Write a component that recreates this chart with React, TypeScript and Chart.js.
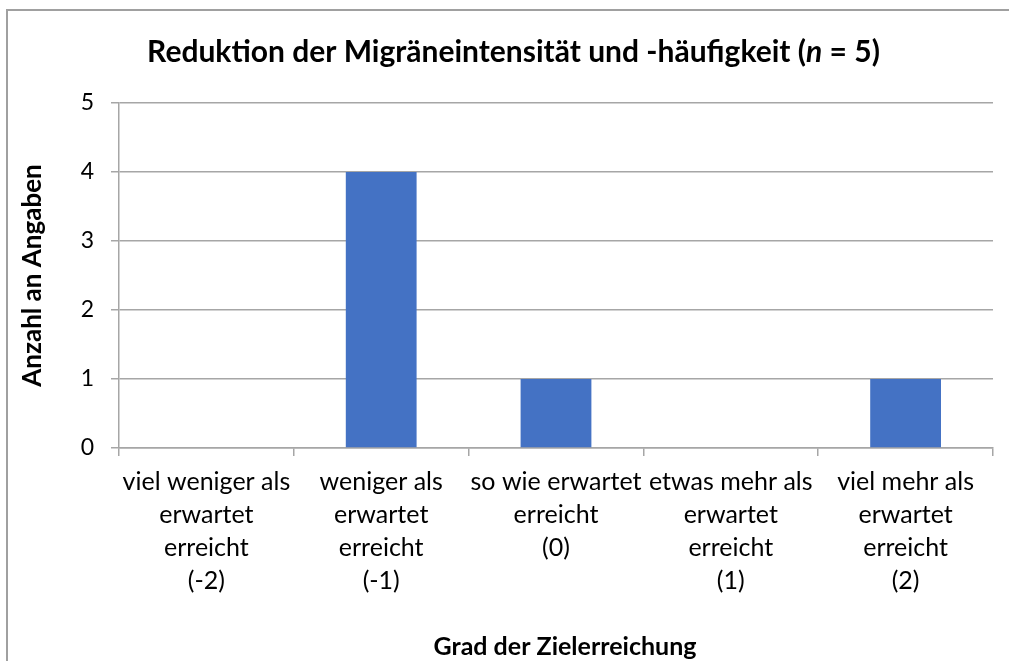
import React, { useEffect, useRef } from "react";
import { Chart, registerables } from "chart.js";

Chart.register(...registerables);

const categories: string[][] = [
  ["viel weniger als", "erwartet", "erreicht", "(-2)"],
  ["weniger als", "erwartet", "erreicht", "(-1)"],
  ["so wie erwartet", "erreicht", "(0)"],
  ["etwas mehr als", "erwartet", "erreicht", "(1)"],
  ["viel mehr als", "erwartet", "erreicht", "(2)"],
];
const counts: number[] = [0, 4, 1, 0, 1];
const yTicks: number[] = [0, 1, 2, 3, 4, 5];
const titleParts = [
  { text: "Reduktion der Migräneintensität und -häufigkeit (", italic: false },
  { text: "n", italic: true },
  { text: " = 5)", italic: false },
];
const yTitle = "Anzahl an Angaben";
const xTitle = "Grad der Zielerreichung";

const FONT = "Lato, 'Open Sans', 'DejaVu Sans', sans-serif";
const GRID = "#A6A6A6";

export default function App() {
  const ref = useRef<HTMLCanvasElement | null>(null);
  useEffect(() => {
    if (!ref.current) return;
    const decor = {
      id: "decor",
      beforeDraw(chart: any) {
        const ctx = chart.ctx;
        ctx.save();
        ctx.strokeStyle = "#A0A0A0";
        ctx.lineWidth = 2;
        ctx.beginPath();
        ctx.moveTo(7, 700);
        ctx.lineTo(7, 10);
        ctx.lineTo(1100, 10);
        ctx.stroke();
        ctx.restore();
      },
      afterDraw(chart: any) {
        const ctx = chart.ctx;
        ctx.save();
        ctx.fillStyle = "#000";
        ctx.textBaseline = "alphabetic";
        const size = 30;
        let total = 0;
        const widths = titleParts.map((p) => {
          ctx.font = `${p.italic ? "italic " : ""}bold ${size}px ${FONT}`;
          const w = ctx.measureText(p.text).width;
          total += w;
          return w;
        });
        let x = 513.5 - total / 2;
        titleParts.forEach((p, i) => {
          ctx.font = `${p.italic ? "italic " : ""}bold ${size}px ${FONT}`;
          ctx.textAlign = "left";
          ctx.fillText(p.text, x, 62);
          x += widths[i];
        });
        ctx.font = `bold 25px ${FONT}`;
        ctx.textAlign = "center";
        ctx.fillText(xTitle, 565, 655);
        ctx.restore();
      },
    };
    const chart = new Chart(ref.current, {
      type: "bar",
      data: {
        labels: categories,
        datasets: [
          {
            data: counts,
            backgroundColor: "#4472C4",
            borderWidth: 0,
            barPercentage: 0.405,
            categoryPercentage: 1,
          },
        ],
      },
      plugins: [decor],
      options: {
        responsive: false,
        animation: false,
        layout: { padding: { left: 0, right: 16, top: 103, bottom: 0 } },
        plugins: {
          legend: { display: false },
          title: { display: false },
          tooltip: { enabled: false },
        },
        scales: {
          x: {
            offset: true,
            grid: {
              drawOnChartArea: false,
              drawTicks: true,
              tickLength: 8,
              color: GRID,
              lineWidth: 1.5,
              offset: true,
            },
            border: { color: GRID, width: 1.5 },
            ticks: {
              color: "#000",
              padding: 9,
              maxRotation: 0,
              autoSkip: false,
              font: { family: FONT, size: 25, lineHeight: 1.32 },
            },
            afterFit(scale: any) {
              scale.height = 213;
            },
          },
          y: {
            min: 0,
            max: 5,
            afterBuildTicks(scale: any) {
              scale.ticks = yTicks.map((v) => ({ value: v }));
            },
            grid: {
              color: GRID,
              lineWidth: 1.5,
              tickLength: 8,
              drawTicks: true,
            },
            border: { color: GRID, width: 1.5 },
            ticks: {
              color: "#000",
              padding: 17,
              font: { family: FONT, size: 23 },
            },
            title: {
              display: true,
              text: yTitle,
              color: "#000",
              padding: { top: 18, bottom: 0 },
              font: { family: FONT, size: 26, weight: "bold", lineHeight: 1.15 },
            },
            afterFit(scale: any) {
              scale.width = 119;
            },
          },
        },
      },
    } as any);
    return () => chart.destroy();
  }, []);
  return (
    <canvas
      ref={ref}
      width={1009}
      height={661}
      style={{ position: "fixed", left: 0, top: 0, width: 1009, height: 661, background: "#fff" }}
    />
  );
}
